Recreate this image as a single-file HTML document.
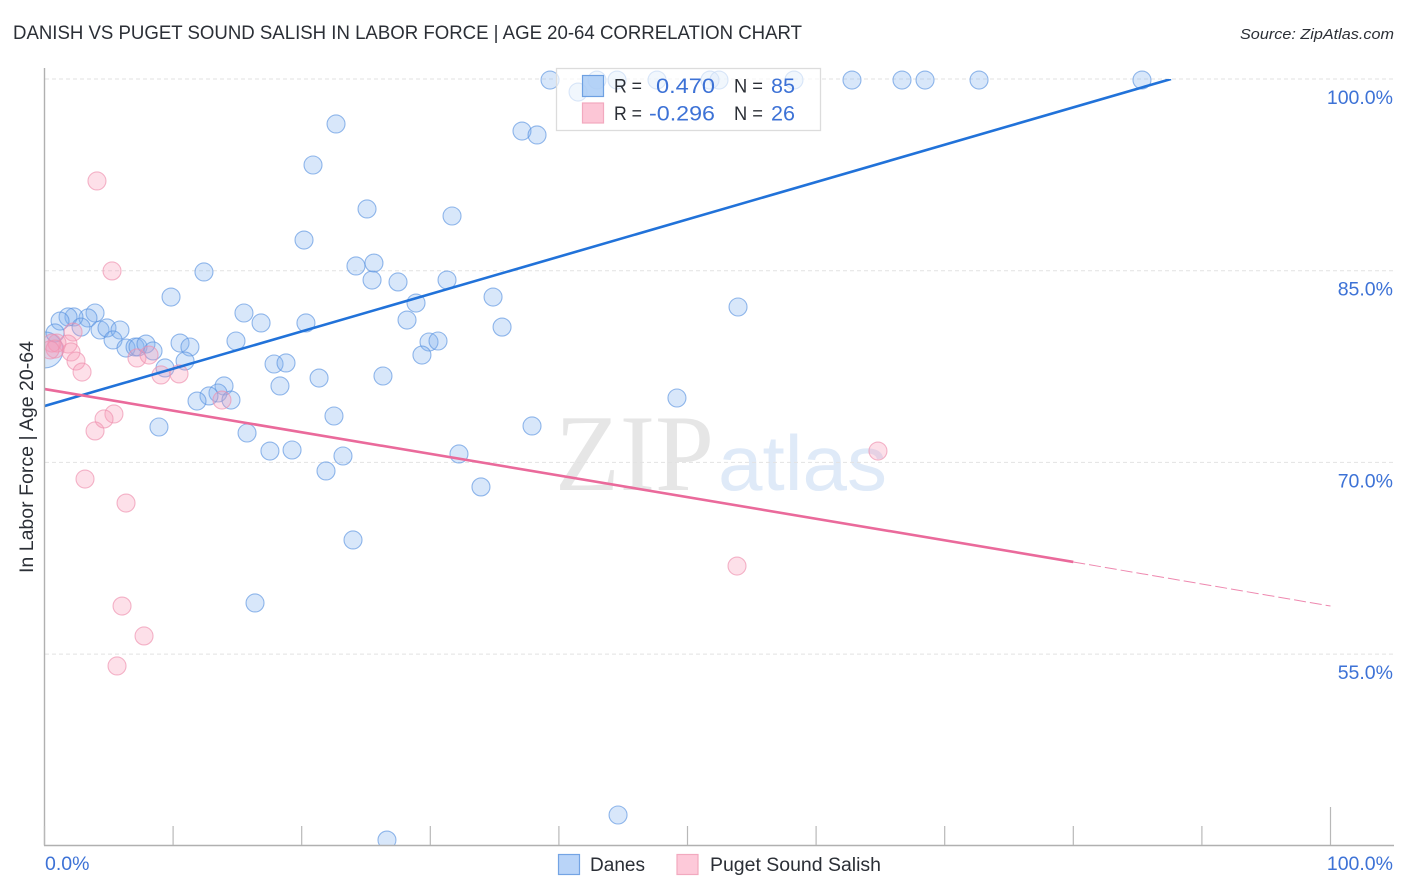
<!DOCTYPE html>
<html lang="en">
<head>
<meta charset="utf-8">
<title>Danish vs Puget Sound Salish in Labor Force | Age 20-64 Correlation Chart</title>
<style>
html,body{margin:0;padding:0;background:#fff;width:1406px;height:892px;overflow:hidden}
svg{display:block;font-family:"Liberation Sans",sans-serif}
</style>
</head>
<body>
<svg id="chart" width="1406" height="892" viewBox="0 0 1406 892" xmlns="http://www.w3.org/2000/svg">
  <defs>
    <clipPath id="plot-clip"><rect x="45" y="60" width="1349" height="785"/></clipPath>
    <clipPath id="trend-clip"><rect x="45" y="79" width="1349" height="766"/></clipPath>
  </defs>
  <text x="13" y="39" font-size="19" fill="#2b2f36" textLength="789" lengthAdjust="spacingAndGlyphs">DANISH VS PUGET SOUND SALISH IN LABOR FORCE | AGE 20-64 CORRELATION CHART</text>
  <text x="1394" y="39" font-size="15" font-style="italic" fill="#2b2f36" text-anchor="end" textLength="154" lengthAdjust="spacingAndGlyphs">Source: ZipAtlas.com</text>

  <g id="watermark">
    <text x="555" y="490" font-family="'Liberation Serif',serif" font-size="109" fill="#e6e6e6" textLength="159" lengthAdjust="spacingAndGlyphs">ZIP</text>
    <text x="718" y="490" font-size="78" fill="#dfeaf8" textLength="169" lengthAdjust="spacingAndGlyphs">atlas</text>
  </g>

  <g id="grid"></g>
  <g id="points" clip-path="url(#plot-clip)"></g>
  <g id="trends" clip-path="url(#trend-clip)"></g>
  <g id="axes"></g>

  <text transform="translate(33,457) rotate(-90)" font-size="19" fill="#2b2f36" text-anchor="middle" textLength="232" lengthAdjust="spacingAndGlyphs">In Labor Force | Age 20-64</text>

  <g id="stats-legend">
    <rect x="556.5" y="68.5" width="264" height="62" fill="#fff" fill-opacity="0.65" stroke="#dcdcdc" stroke-width="1.3"/>
    <rect x="582.5" y="75.5" width="21" height="21" fill="#a9cbf6" fill-opacity="0.85" stroke="#6ea0e2" stroke-width="1.2"/>
    <rect x="582.5" y="103" width="21" height="20" fill="#fcc6d6" stroke="#f2a9bf" stroke-width="1.2"/>
    <g font-size="19.5" fill="#2b2f36">
      <text x="614" y="92.5" textLength="28" lengthAdjust="spacingAndGlyphs">R =</text>
      <text x="734" y="92.5" textLength="29" lengthAdjust="spacingAndGlyphs">N =</text>
      <text x="614" y="120" textLength="28" lengthAdjust="spacingAndGlyphs">R =</text>
      <text x="734" y="120" textLength="29" lengthAdjust="spacingAndGlyphs">N =</text>
    </g>
    <g font-size="21" fill="#3d72d6">
      <text x="656" y="93" textLength="59" lengthAdjust="spacingAndGlyphs">0.470</text>
      <text x="771" y="93" textLength="24" lengthAdjust="spacingAndGlyphs">85</text>
      <text x="649" y="120.5" textLength="66" lengthAdjust="spacingAndGlyphs">-0.296</text>
      <text x="771" y="120.5" textLength="24" lengthAdjust="spacingAndGlyphs">26</text>
    </g>
  </g>

  <g id="bottom-legend">
    <rect x="558.5" y="854.5" width="21" height="20" fill="#b9d4f8" stroke="#74a4e4" stroke-width="1.2"/>
    <text x="590" y="871" font-size="19" fill="#2b2f36" textLength="55" lengthAdjust="spacingAndGlyphs">Danes</text>
    <rect x="677" y="854.5" width="21" height="20" fill="#fdc9d9" stroke="#f2a9bf" stroke-width="1.2"/>
    <text x="710" y="871" font-size="19" fill="#2b2f36" textLength="171" lengthAdjust="spacingAndGlyphs">Puget Sound Salish</text>
  </g>
</svg>
<script>
const danesX = [39.31,41.49,42.96,44.52,47.63,51.75,52.45,58.28,62.79,66.68,68.47,72.67,85.34,
  22.67,37.13,38.30,20.88,25.08,31.69,20.18,12.40,24.22,25.62,
  25.47,27.49,31.30,9.84,34.88,28.89,53.93,15.51,28.19,16.84,
  20.33,35.58,3.93,3.38,2.29,1.83,1.21,2.84,4.32,4.86,
  5.87,5.33,0.82,14.89,10.54,29.90,30.60,29.35,6.34,7.04,
  7.27,7.89,8.44,11.31,10.93,17.85,18.78,9.37,21.35,26.32,
  13.96,18.31,13.49,12.79,11.86,14.50,49.18,22.51,8.90,37.91,
  15.75,17.53,19.25,23.21,32.23,21.89,33.94,23.99,16.37,26.63,
  44.60];
const danesY = [99.92,98.98,99.92,99.92,99.92,99.92,99.92,99.92,99.92,99.92,99.92,99.92,99.92,
  96.48,95.93,95.62,93.27,89.83,89.28,87.40,84.90,85.37,85.60,
  84.27,84.12,84.27,82.94,82.94,82.47,82.16,81.69,81.14,80.91,
  80.91,80.59,81.69,81.30,81.38,81.38,81.06,80.59,80.36,80.52,
  80.36,79.58,80.13,79.50,79.34,79.42,79.50,78.40,78.95,79.03,
  79.03,79.26,78.72,79.03,77.93,77.70,77.78,77.39,76.60,76.76,
  75.98,75.98,75.43,75.20,74.80,74.88,75.04,73.63,72.77,72.85,
  72.30,70.89,70.97,70.50,70.66,69.33,68.08,63.93,59.00,40.45,
  42.41];
const danesHeavyX = [0.04];
const danesHeavyY = [78.80];
const pugetX = [4.08,5.25,2.22,1.83,0.97,0.58,2.06,0.82,0.43,2.45,2.92,7.19,8.13,
  9.06,10.46,13.80,5.40,4.63,3.93,3.15,6.34,6.03,7.74,5.64,64.81,53.85];
const pugetY = [92.02,84.98,80.20,79.26,79.34,79.34,78.64,78.87,78.80,77.93,77.07,78.17,78.40,
  76.84,76.92,74.88,73.79,73.40,72.46,68.70,66.82,58.76,56.42,54.07,70.89,61.89];
const danesTrendX = [0,87.6];
const danesTrendY = [74.41,100];
const pugetTrendX = [0,80];
const pugetTrendY = [75.74,62.21];
const pugetForecastX = [80,100];
const pugetForecastY = [62.21,58.76];
const yGridValues = [100,85,70,55];
const yTickLabels = ["100.0%","85.0%","70.0%","55.0%"];
const xTickValues = [0,10,20,30,40,50,60,70,80,90,100];
const xEndLabels = ["0.0%","100.0%"];

const NS = "http://www.w3.org/2000/svg";
function xScale(v){ return 44.5 + v * 12.86; }
function yScale(v){ return 79 + (100 - v) * 12.78; }
function make(tag, attrs, parent){
  const el = document.createElementNS(NS, tag);
  for (const k in attrs) el.setAttribute(k, attrs[k]);
  parent.appendChild(el);
  return el;
}
const gridG = document.getElementById("grid");
const pointsG = document.getElementById("points");
const trendsG = document.getElementById("trends");
const axesG = document.getElementById("axes");

yGridValues.forEach(function(v, i){
  const line = make("line", {x1:45, x2:1394, y1:yScale(v), y2:yScale(v), stroke:"#e2e2e2", "stroke-width":1, "stroke-dasharray":"4 3"}, gridG);
  
  
  const label = make("text", {x:1393, y:yScale(v) + 25, "font-size":19.5, fill:"#3d72d6", "text-anchor":"end"}, axesG);
  label.textContent = yTickLabels[i];
  
  
});

function drawPoint(x, y, r, fill, stroke, name){
  const c = make("circle", {cx:xScale(x), cy:yScale(y), r:r, fill:fill, "fill-opacity":0.3, stroke:stroke, "stroke-opacity":0.65, "stroke-width":1.1}, pointsG);
  
  
}
danesHeavyX.forEach(function(x, i){ drawPoint(x, danesHeavyY[i], 18, "#7fb0ee", "#5b93e0", "danes-point-large"); });
danesX.forEach(function(x, i){ drawPoint(x, danesY[i], 9, "#7fb0ee", "#5b93e0", "danes-point"); });
pugetX.forEach(function(x, i){ drawPoint(x, pugetY[i], 9, "#f898b6", "#ee8fae", "puget-point"); });

const danesLine = make("line", {x1:xScale(danesTrendX[0]), y1:yScale(danesTrendY[0]), x2:xScale(danesTrendX[1]), y2:yScale(danesTrendY[1]), stroke:"#2172d9", "stroke-width":2.6}, trendsG);


const pugetLine = make("line", {x1:xScale(pugetTrendX[0]), y1:yScale(pugetTrendY[0]), x2:xScale(pugetTrendX[1]), y2:yScale(pugetTrendY[1]), stroke:"#ea6a9b", "stroke-width":2.6}, trendsG);


const pugetDash = make("line", {x1:xScale(pugetForecastX[0]), y1:yScale(pugetForecastY[0]), x2:xScale(pugetForecastX[1]), y2:yScale(pugetForecastY[1]), stroke:"#ea6a9b", "stroke-width":1, "stroke-dasharray":"12 4", "stroke-opacity":0.8}, trendsG);



const yAxis = make("line", {x1:44.5, x2:44.5, y1:68, y2:845.5, stroke:"#b0b0b0", "stroke-width":1.4}, axesG);


const xAxis = make("line", {x1:44, x2:1394, y1:845.5, y2:845.5, stroke:"#b0b0b0", "stroke-width":1.4}, axesG);


xTickValues.forEach(function(v){
  const top = v === 100 ? 807 : 826;
  const t = make("line", {x1:xScale(v), x2:xScale(v), y1:top, y2:845, stroke:"#b8b8b8", "stroke-width":1.2}, axesG);
  
  
});
const xStart = make("text", {x:45, y:870, "font-size":19.5, fill:"#3d72d6"}, axesG);
xStart.textContent = xEndLabels[0];


const xEnd = make("text", {x:1393, y:870, "font-size":19.5, fill:"#3d72d6", "text-anchor":"end"}, axesG);
xEnd.textContent = xEndLabels[1];


</script>
</body>
</html>
